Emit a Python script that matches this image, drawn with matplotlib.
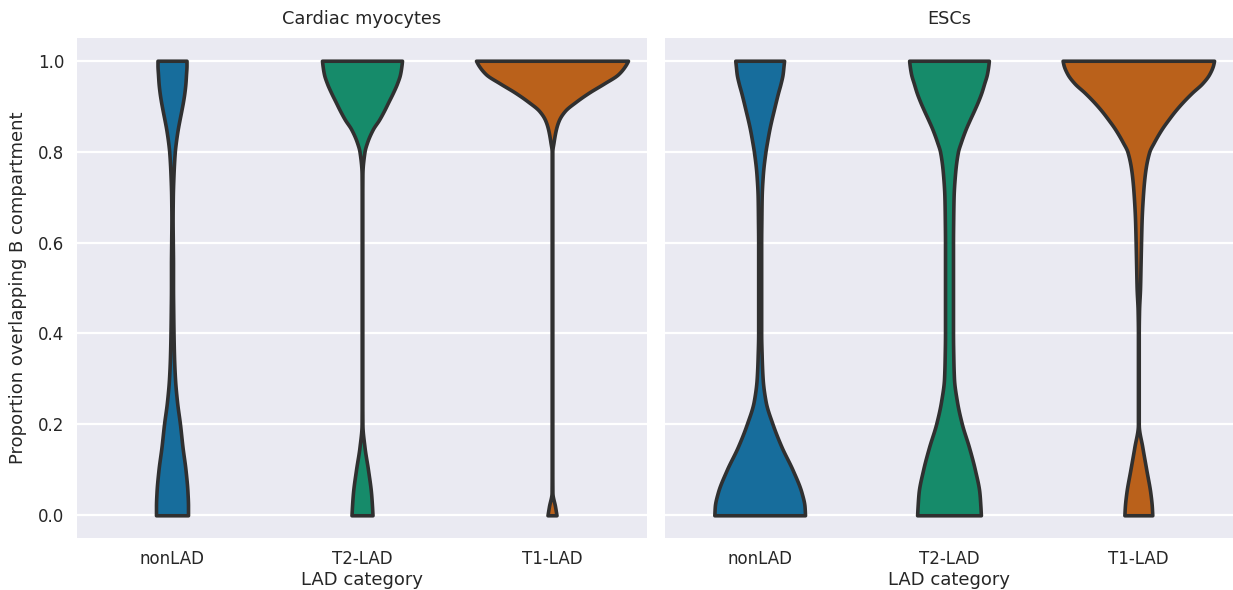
import numpy as np
import matplotlib
matplotlib.use("Agg")
import matplotlib.pyplot as plt

# ---------------- data ----------------
panels = ["Cardiac myocytes", "ESCs"]
categories = ["nonLAD", "T2-LAD", "T1-LAD"]

# proportion levels at which violin densities were read
prop_levels = [0.0, 0.02, 0.05, 0.10, 0.15, 0.20, 0.25, 0.30, 0.35, 0.40,
               0.45, 0.50, 0.55, 0.60, 0.65, 0.70, 0.75, 0.80, 0.82, 0.85,
               0.87, 0.89, 0.91, 0.93, 0.95, 0.97, 0.99, 1.0]

# relative density (arbitrary units, common scale) at each level
cm_nonlad = [16, 16, 15.5, 13.5, 10.5, 8, 5, 3, 2, 1.5,
             1.2, 1, 1, 0.8, 0.6, 0.8, 1.5, 2.8, 3.8, 5.8,
             7.5, 9.3, 11, 12.4, 13.4, 14, 14.5, 14.5]
cm_t2lad = [10.5, 10, 9, 6, 2.5, 0.4, 0.3, 0.3, 0.3, 0.3,
            0.3, 0.3, 0.3, 0.3, 0.3, 0.3, 0.4, 2.5, 5, 11,
            17, 22, 26.5, 31, 35, 38, 39.5, 40]
cm_t1lad = [4.5, 3, 0.4, 0.3, 0.3, 0.3, 0.3, 0.3, 0.3, 0.3,
            0.3, 0.3, 0.3, 0.3, 0.3, 0.3, 0.3, 0.3, 1.5, 4,
            7, 13, 24, 37, 52, 66, 73.5, 76]
esc_nonlad = [45.5, 45, 42, 33, 22, 13, 6, 3, 2, 1.5,
              1.5, 1.5, 1.5, 1.5, 1.7, 2, 3.2, 5.8, 7.3, 9.8,
              11.8, 14, 16.2, 18.5, 21, 23, 24, 24.5]
esc_t2lad = [32, 31.5, 30.5, 26, 20, 13, 8, 5, 4.3, 4,
             4, 4, 4, 4, 4.2, 4.6, 6, 9, 11.8, 16.8,
             20.8, 25, 29, 32.5, 35.3, 38, 39.5, 40]
esc_t1lad = [14, 13.5, 12, 8, 4, 0.4, 0.4, 0.4, 0.4, 0.4,
             0.7, 1.7, 2.2, 2.7, 3.3, 4.5, 6.5, 11, 15.5, 23.5,
             30, 37, 45, 54, 64, 71, 75, 76]

densities = {
    "Cardiac myocytes": [cm_nonlad, cm_t2lad, cm_t1lad],
    "ESCs": [esc_nonlad, esc_t2lad, esc_t1lad],
}

colors = ["#176d9c", "#168b6a", "#ba611b"]
edge_color = "#303030"
yticks = [0.0, 0.2, 0.4, 0.6, 0.8, 1.0]


def pchip(x, y, xn):
    """Shape-preserving cubic through the read points (for a smooth outline)."""
    x = np.asarray(x, float)
    y = np.asarray(y, float)
    h = np.diff(x)
    delta = np.diff(y) / h
    n = len(x)
    d = np.zeros(n)
    for k in range(1, n - 1):
        if delta[k - 1] * delta[k] > 0:
            w1 = 2 * h[k] + h[k - 1]
            w2 = h[k] + 2 * h[k - 1]
            d[k] = (w1 + w2) / (w1 / delta[k - 1] + w2 / delta[k])
    d[0] = delta[0]
    d[-1] = delta[-1]
    idx = np.clip(np.searchsorted(x, xn) - 1, 0, n - 2)
    t = (xn - x[idx]) / h[idx]
    h00 = 2 * t**3 - 3 * t**2 + 1
    h10 = t**3 - 2 * t**2 + t
    h01 = -2 * t**3 + 3 * t**2
    h11 = t**3 - t**2
    return (h00 * y[idx] + h10 * h[idx] * d[idx]
            + h01 * y[idx + 1] + h11 * h[idx] * d[idx + 1])


# ---------------- style ----------------
plt.rcParams.update({
    "font.family": ["DejaVu Sans"],
    "axes.facecolor": "#EAEAF2",
    "axes.edgecolor": "white",
    "grid.color": "white",
    "grid.linewidth": 1.6,
    "text.color": "#262626",
    "axes.labelcolor": "#262626",
    "xtick.color": "#262626",
    "ytick.color": "#262626",
})

fig = plt.figure(figsize=(12.33, 5.90), dpi=100)
W, H = 1233, 590
ax_bottom = 1 - 538 / H
ax_height = (538 - 38) / H
axes = [
    fig.add_axes([77 / W, ax_bottom, (647 - 77) / W, ax_height]),
    fig.add_axes([665 / W, ax_bottom, (1233 - 665) / W, ax_height]),
]

yfine = np.linspace(0.0, 1.0, 401)
global_max = max(max(d) for p in panels for d in densities[p])
half_width = 0.4

for ax, panel in zip(axes, panels):
    ax.set_axisbelow(True)
    for i, (dens, col) in enumerate(zip(densities[panel], colors)):
        smooth = np.clip(pchip(prop_levels, dens, yfine), 0, None)
        hw = smooth / global_max * half_width
        ax.fill_betweenx(yfine, i - hw, i + hw, facecolor=col,
                         edgecolor=edge_color, linewidth=2.6,
                         joinstyle="round", zorder=2)
    ax.set_xlim(-0.5, 2.5)
    ax.set_ylim(-0.05, 1.05)
    ax.set_xticks(range(len(categories)))
    ax.set_xticklabels(categories, fontsize=12)
    ax.set_yticks(yticks)
    ax.set_yticklabels([f"{t:.1f}" for t in yticks], fontsize=12)
    ax.tick_params(length=0, pad=9)
    ax.grid(axis="y", visible=True)
    ax.grid(axis="x", visible=False)
    for s in ax.spines.values():
        s.set_visible(False)
    ax.set_title(panel, fontsize=12.8, pad=10)
    ax.set_xlabel("LAD category", fontsize=13, labelpad=2)

axes[0].set_ylabel("Proportion overlapping B compartment", fontsize=13, labelpad=8)
axes[1].tick_params(axis="y", labelleft=False)

fig.savefig("out.png", dpi=100)
